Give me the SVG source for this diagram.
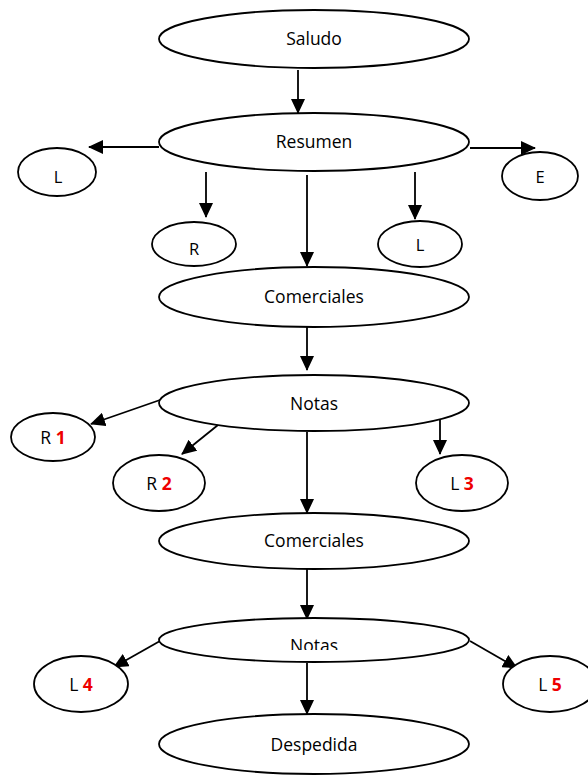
<svg xmlns="http://www.w3.org/2000/svg" width="588" height="783" viewBox="0 0 588 783">
<style>
.n ellipse{fill:#fff;stroke:#000;stroke-width:1.8}
text{font-family:"Open Sans","Liberation Sans",sans-serif;font-size:17.5px;fill:#000;text-anchor:middle}
text.s{font-size:16.5px}
.r{fill:#e00;font-weight:bold}
#edges line{stroke:#000;stroke-width:1.8}
</style>
<defs>
<marker id="a" markerWidth="15" markerHeight="14" viewBox="0 0 15 14" refX="14" refY="7" orient="auto" markerUnits="userSpaceOnUse"><path d="M0,0 L15,7 L0,14 z" fill="#000"/></marker>
<clipPath id="cl"><rect x="0" y="620" width="588" height="30"/></clipPath>
</defs>
<rect width="588" height="783" fill="#fff"/>
<g id="edges">
<line x1="298" y1="70" x2="298" y2="113" marker-end="url(#a)"/>
<line x1="159" y1="147" x2="89" y2="147" marker-end="url(#a)"/>
<line x1="470" y1="148" x2="535" y2="148" marker-end="url(#a)"/>
<line x1="206" y1="172" x2="206" y2="217" marker-end="url(#a)"/>
<line x1="415" y1="172" x2="415" y2="219" marker-end="url(#a)"/>
<line x1="307" y1="175" x2="307" y2="266" marker-end="url(#a)"/>
<line x1="307" y1="323" x2="307" y2="370" marker-end="url(#a)"/>
<line x1="160" y1="400" x2="91" y2="424" marker-end="url(#a)"/>
<line x1="218" y1="425" x2="182" y2="454" marker-end="url(#a)"/>
<line x1="440" y1="418" x2="440" y2="454" marker-end="url(#a)"/>
<line x1="307" y1="432" x2="307" y2="513" marker-end="url(#a)"/>
<line x1="307" y1="569" x2="307" y2="619" marker-end="url(#a)"/>
<line x1="160" y1="641" x2="114" y2="667" marker-end="url(#a)"/>
<line x1="470" y1="641" x2="517" y2="668" marker-end="url(#a)"/>
<line x1="307" y1="663" x2="307" y2="714" marker-end="url(#a)"/>
</g>
<g id="saludo" class="n"><ellipse cx="314" cy="39" rx="155" ry="29"/><text x="314" y="45">Saludo</text></g>
<g id="resumen" class="n"><ellipse cx="314" cy="142" rx="155" ry="29"/><text x="314" y="148">Resumen</text></g>
<g id="l0" class="n"><ellipse cx="57" cy="172" rx="39" ry="24"/><text class="s" x="58" y="183">L</text></g>
<g id="e0" class="n"><ellipse cx="540" cy="176" rx="38" ry="24"/><text class="s" x="540" y="183">E</text></g>
<g id="r0" class="n"><ellipse cx="194" cy="244" rx="42" ry="22"/><text class="s" x="194" y="255">R</text></g>
<g id="l1" class="n"><ellipse cx="420" cy="244" rx="42" ry="23"/><text class="s" x="420" y="251">L</text></g>
<g id="comerciales1" class="n"><ellipse cx="314" cy="297" rx="155" ry="30"/><text x="314" y="303">Comerciales</text></g>
<g id="notas1" class="n"><ellipse cx="314" cy="403" rx="155" ry="28"/><text x="314" y="410">Notas</text></g>
<g id="r1" class="n"><ellipse cx="53" cy="437" rx="42" ry="24"/><text x="53" y="444">R <tspan class="r">1</tspan></text></g>
<g id="r2" class="n"><ellipse cx="159" cy="483" rx="46" ry="28"/><text x="159" y="490">R <tspan class="r">2</tspan></text></g>
<g id="l3" class="n"><ellipse cx="462" cy="483" rx="46" ry="28"/><text x="462" y="490">L <tspan class="r">3</tspan></text></g>
<g id="comerciales2" class="n"><ellipse cx="314" cy="541" rx="155" ry="28"/><text x="314" y="547">Comerciales</text></g>
<g id="notas2" class="n"><ellipse cx="314" cy="640" rx="155" ry="22"/><text x="314" y="652" clip-path="url(#cl)">Notas</text></g>
<g id="l4" class="n"><ellipse cx="81" cy="684" rx="47" ry="28"/><text x="81" y="691">L <tspan class="r">4</tspan></text></g>
<g id="l5" class="n"><ellipse cx="550" cy="684" rx="47" ry="28"/><text x="550" y="691">L <tspan class="r">5</tspan></text></g>
<g id="despedida" class="n"><ellipse cx="314" cy="744" rx="155" ry="30"/><text x="314" y="751">Despedida</text></g>
</svg>
